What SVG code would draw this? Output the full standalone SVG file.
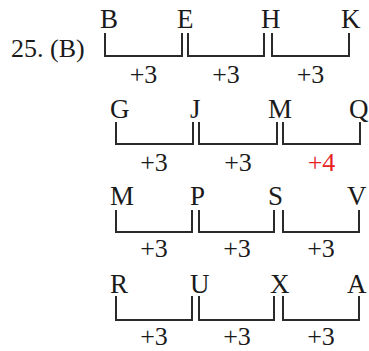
<svg xmlns="http://www.w3.org/2000/svg" width="369" height="351" viewBox="0 0 369 351">
<style>
text{font-family:"Liberation Serif","Times New Roman",serif;fill:#1a1a1a}
.l{font-size:27px}
.n{font-size:26px;text-anchor:middle}
.red{fill:#e8231f}
.b{fill:none;stroke:#2a2a2a;stroke-width:2}
</style>
<rect width="369" height="351" fill="#fff"/>
<text id="title" x="11" y="57" style="font-size:26px">25. (B)</text>
<g id="row1">
<text class="l" x="100" y="28">B</text>
<text class="l" x="177" y="28">E</text>
<text class="l" x="261" y="28">H</text>
<text class="l" x="341" y="28">K</text>
<text class="n" x="143.5" y="83">+3</text>
<text class="n" x="226" y="83">+3</text>
<text class="n" x="310.5" y="83">+3</text>
</g>
<g id="row2">
<text class="l" x="110" y="118">G</text>
<text class="l" x="190" y="118">J</text>
<text class="l" x="268" y="118">M</text>
<text class="l" x="349" y="118">Q</text>
<text class="n" x="154" y="171">+3</text>
<text class="n" x="238" y="171">+3</text>
<text class="n red" x="321.5" y="171">+4</text>
</g>
<g id="row3">
<text class="l" x="110" y="205">M</text>
<text class="l" x="190" y="205">P</text>
<text class="l" x="268" y="205">S</text>
<text class="l" x="347" y="205">V</text>
<text class="n" x="154" y="257">+3</text>
<text class="n" x="237" y="257">+3</text>
<text class="n" x="321" y="257">+3</text>
</g>
<g id="row4">
<text class="l" x="110" y="293">R</text>
<text class="l" x="190" y="293">U</text>
<text class="l" x="270" y="293">X</text>
<text class="l" x="347" y="293">A</text>
<text class="n" x="154" y="345">+3</text>
<text class="n" x="237" y="345">+3</text>
<text class="n" x="321" y="345">+3</text>
</g>
<g id="connectors">
<path class="b" d="M105 33V56H182V33M188 33V56H264V33M272 33V56H349V33"/>
<path class="b" d="M116 122V144H193V122M199 122V144H277V122M283 122V144H360V122"/>
<path class="b" d="M116 210V232H192V210M199 210V232H274V210M283 210V232H359V210"/>
<path class="b" d="M116 296V320H192V296M199 296V320H274V296M283 296V320H359V296"/>
</g>
</svg>
